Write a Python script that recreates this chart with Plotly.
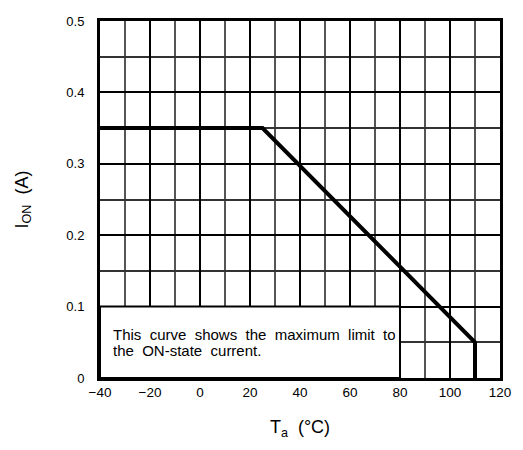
import plotly.graph_objects as go

# Data
temp_c = [-40, 25, 110, 110]
current_a = [0.35, 0.35, 0.05, 0.0]
x_ticks = [-40, -20, 0, 20, 40, 60, 80, 100, 120]
y_ticks = [0, 0.1, 0.2, 0.3, 0.4, 0.5]
y_tick_labels = ["0", "0.1", "0.2", "0.3", "0.4", "0.5"]
note_lines = ["This curve shows the maximum limit to", "the ON-state current."]

FONT = "Liberation Sans, Arial, sans-serif"

fig = go.Figure()
fig.add_trace(go.Scatter(
    x=temp_c, y=current_a, mode="lines",
    line=dict(color="black", width=4), showlegend=False, hoverinfo="skip",
))

# White note box over the lower-left grid area
fig.add_shape(type="rect", xref="x", yref="y", x0=-40, x1=80, y0=0, y1=0.1,
              fillcolor="white", line=dict(color="black", width=2), layer="between")
for line_text, ypos in zip(note_lines, [0.0605, 0.0385]):
    wide_text = line_text.replace(" ", " \u00a0")
    fig.add_annotation(x=-35.6, y=ypos, xref="x", yref="y", text=wide_text,
                       showarrow=False, xanchor="left", yanchor="middle", align="left",
                       height=15, valign="middle",
                       font=dict(family=FONT, size=15, color="black"))

fig.update_layout(
    width=509, height=434,
    margin=dict(l=92, r=12, t=6, b=64),
    paper_bgcolor="white", plot_bgcolor="white",
    font=dict(family=FONT, size=13, color="black"),
    xaxis=dict(
        range=[-40, 120], tickvals=x_ticks, ticks="",
        showline=True, linecolor="black",
        linewidth=3, mirror=True, showgrid=True, gridcolor="black", gridwidth=2,
        zeroline=False, tickfont=dict(size=13.5),
        minor=dict(dtick=10, tick0=-40, showgrid=True, gridcolor="#555555", gridwidth=1.5, ticks=""),
        title=dict(text="T<sub>a</sub>  (°C)", font=dict(size=18), standoff=22),
    ),
    yaxis=dict(
        range=[0, 0.5], tickvals=y_ticks, ticktext=y_tick_labels, ticks="outside",
        ticklen=10, tickcolor="rgba(0,0,0,0)", showline=True,
        linecolor="black", linewidth=3, mirror=True, showgrid=True, gridcolor="black",
        gridwidth=2, zeroline=False, tickfont=dict(size=13),
        minor=dict(dtick=0.05, tick0=0, showgrid=True, gridcolor="#333333", gridwidth=1.5, ticks=""),
        title=dict(text="I<sub>ON</sub>  (A)", font=dict(size=18), standoff=34),
    ),
)

fig.write_html("out.html", config={"displayModeBar": False})
